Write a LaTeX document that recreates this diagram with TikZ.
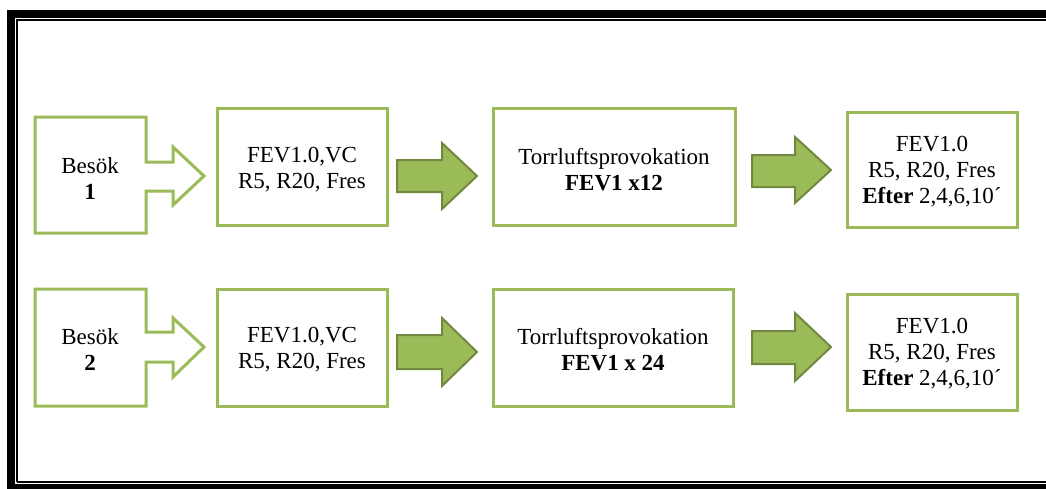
\documentclass[tikz,border=0pt]{standalone}
\usepackage{fontspec}
\setmainfont{Liberation Serif}
\definecolor{boxgreen}{HTML}{9BBB59}
\definecolor{arrowline}{HTML}{71893F}
\begin{document}
\begin{tikzpicture}[x=1pt,y=-1pt,
  stepbox/.style={draw=boxgreen,line width=3pt,fill=white,inner sep=0pt},
  callout/.style={draw=boxgreen,line width=3pt,fill=white,line join=miter},
  blockarrow/.style={draw=arrowline,line width=2pt,fill=boxgreen,line join=miter},
  txt/.style={align=center,font=\fontsize{23}{26}\selectfont,inner sep=0pt}]
\useasboundingbox (0,0) rectangle (1046,488);
% frame
\draw[line width=8pt] (11,1060) -- (11,14) -- (1060,14);
\draw[line width=5pt] (7,486) -- (1060,486);
\draw[line width=1.5pt] (17,482) -- (17,20) -- (1060,20);
\draw[line width=1.5pt] (17,482) -- (1060,482);

% ---------- row 1 ----------
\draw[callout] (35,117) -- (146,117) -- (146,162) -- (173,162) -- (173,147) -- (204,176) -- (173,205) -- (173,191) -- (146,191) -- (146,233) -- (35,233) -- cycle;
\node[txt] (v1) at (90,179) {Besök\\\textbf{1}};
\node[stepbox,minimum width=170pt,minimum height=117pt] (a1) at (302,166.5) {};
\node[txt] (a1t) at (302,170) {FEV1.0,VC\\R5, R20, Fres};
\node[stepbox,minimum width=242pt,minimum height=117pt] (b1) at (614,166.5) {};
\node[txt] (b1t) at (614,170) {Torrluftsprovokation\\\textbf{FEV1 x12}};
\node[stepbox,minimum width=170pt,minimum height=115pt] (c1) at (932,169.5) {};
\node[txt] (c1t) at (932,172) {FEV1.0\\R5, R20, Fres\\\textbf{Efter} 2,4,6,10´};
\draw[blockarrow] (397,160) -- (442,160) -- (442,143) -- (477,176) -- (442,209) -- (442,192) -- (397,192) -- cycle;
\draw[blockarrow] (752,155) -- (795,155) -- (795,137) -- (831,170) -- (795,203) -- (795,187) -- (752,187) -- cycle;

% ---------- row 2 ----------
\draw[callout] (35,289) -- (146,289) -- (146,332) -- (173,332) -- (173,318) -- (204,347) -- (173,377) -- (173,362) -- (146,362) -- (146,406) -- (35,406) -- cycle;
\node[txt] (v2) at (90,350) {Besök\\\textbf{2}};
\node[stepbox,minimum width=170pt,minimum height=117pt] (a2) at (302,347.5) {};
\node[txt] (a2t) at (302,350) {FEV1.0,VC\\R5, R20, Fres};
\node[stepbox,minimum width=240pt,minimum height=117pt] (b2) at (613,347.5) {};
\node[txt] (b2t) at (613,350) {Torrluftsprovokation\\\textbf{FEV1 x 24}};
\node[stepbox,minimum width=170pt,minimum height=116pt] (c2) at (932,352) {};
\node[txt] (c2t) at (932,354) {FEV1.0\\R5, R20, Fres\\\textbf{Efter} 2,4,6,10´};
\draw[blockarrow] (397,335) -- (442,335) -- (442,318) -- (477,352) -- (442,386) -- (442,369) -- (397,369) -- cycle;
\draw[blockarrow] (752,331) -- (795,331) -- (795,313) -- (831,347) -- (795,381) -- (795,364) -- (752,364) -- cycle;
\end{tikzpicture}
\end{document}
